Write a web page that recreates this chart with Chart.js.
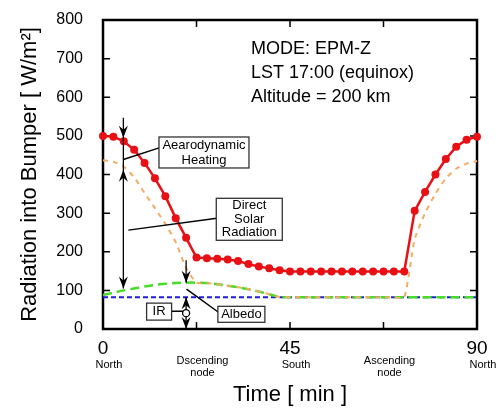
<!DOCTYPE html>
<html>
<head>
<meta charset="utf-8">
<script src="https://cdn.jsdelivr.net/npm/chart.js@4.4.1/dist/chart.umd.min.js"></script>
<style>
  body { margin: 0; background: #fff; }
  #wrap { width: 502px; height: 412px; }
</style>
</head>
<body>
<div id="wrap"><canvas id="radChart"></canvas></div>
<script>
// orbit time [min], one point every 2.5 min
const times = [0, 2.5, 5, 7.5, 10, 12.5, 15, 17.5, 20, 22.5, 25, 27.5, 30, 32.5, 35, 37.5, 40, 42.5,
  45, 47.5, 50, 52.5, 55, 57.5, 60, 62.5, 65, 67.5, 70, 72.5, 75, 77.5, 80, 82.5, 85, 87.5, 90];

// total radiation into bumper (red)
const total = [500, 498, 486, 464, 430, 390, 344, 287, 236, 185, 183, 182, 180, 176, 168, 162, 157, 152,
  149, 149, 149, 149, 149, 149, 149, 149, 149, 149, 149, 149, 306, 355, 400, 440, 472, 490, 498];

// IR + albedo + direct solar (orange)
const solar = [437, 433, 420, 393, 352, 313, 272, 225, 158, 120, 119, 116, 112, 108, 103, 97, 90, 83,
  82, 82, 82, 82, 82, 82, 82, 82, 82, 82, 82, 82, 232, 300, 350, 390, 415, 428, 435];

// IR + albedo (green)
const albedo = [88, 94, 100, 105, 110, 114, 117, 119, 120, 120, 119, 116, 112, 108, 103, 97, 90, 83,
  82, 82, 82, 82, 82, 82, 82, 82, 82, 82, 82, 82, 82, 82, 82, 82, 82, 82, 82];

// IR only (blue)
const irTimes = [0, 90];
const ir = [82, 82];

const xTickValues = [0, 22.5, 45, 67.5, 90];
const xTickLabels = ['0', '', '45', '', '90'];
const xSubLabels = [['North'], ['Dscending', 'node'], ['South'], ['Ascending', 'node'], ['North']];

const infoLines = ['MODE: EPM-Z', 'LST 17:00 (equinox)', 'Altitude = 200 km'];

const FONT = "'Liberation Sans', Arial, sans-serif";

const pts = (xs, ys) => xs.map((x, i) => ({ x: x, y: ys[i] }));

// callout boxes, centre in data units, size in px
const callouts = [
  { t: 24.3, v: 457, w: 90, h: 31, lh: 15, lines: ['Aearodynamic', 'Heating'] },
  { t: 35.2, v: 284, w: 66, h: 42, lh: 13.5, lines: ['Direct', 'Solar', 'Radiation'] },
  { t: 13.5, v: 45, w: 25, h: 17, lh: 13, lines: ['IR'] },
  { t: 33.3, v: 38, w: 47, h: 16, lh: 13, lines: ['Albedo'] }
];
const leaders = [
  [4.9, 439, 13.5, 469],
  [6.1, 256, 27.4, 287],
  [20.1, 103, 27.7, 44],
  [16.5, 46, 20, 46]
];
// vertical arrows: [t, vFrom, vTo], heads: [t, v, dir] (dir 1 = pointing down)
const arrowLines = [[4.9, 547, 105], [20, 178, 120], [20, 82, 0]];
const arrowHeads = [[4.9, 495, 1], [4.9, 412, -1], [4.9, 105, 1], [20, 120, 1], [20, 82, -1], [20, 0, 1]];

function head(ctx, x, y, dir) {
  ctx.beginPath();
  ctx.moveTo(x, y);
  ctx.lineTo(x - 4.5, y - dir * 12);
  ctx.lineTo(x, y - dir * 8);
  ctx.lineTo(x + 4.5, y - dir * 12);
  ctx.closePath();
  ctx.fill();
}

const framePlugin = {
  id: 'frame',
  beforeDatasetsDraw(chart) {
    const ctx = chart.ctx;
    const { left, right, top, bottom } = chart.chartArea;
    const xs = chart.scales.x, ys = chart.scales.y;
    ctx.save();
    ctx.strokeStyle = '#000';
    ctx.lineWidth = 1.5;
    ctx.beginPath();
    xs.ticks.forEach(tk => {
      const x = xs.getPixelForValue(tk.value);
      if (x < left + 2 || x > right - 2) return;
      ctx.moveTo(x, bottom); ctx.lineTo(x, bottom - 7);
      ctx.moveTo(x, top); ctx.lineTo(x, top + 7);
    });
    ys.ticks.forEach(tk => {
      const y = ys.getPixelForValue(tk.value);
      if (y < top + 2 || y > bottom - 2) return;
      ctx.moveTo(left, y); ctx.lineTo(left + 7, y);
      ctx.moveTo(right, y); ctx.lineTo(right - 7, y);
    });
    ctx.stroke();
    ctx.lineWidth = 2.5;
    ctx.strokeRect(left, top, right - left, bottom - top);
    ctx.restore();
  }
};

const notesPlugin = {
  id: 'notes',
  afterDatasetsDraw(chart) {
    const ctx = chart.ctx;
    const xs = chart.scales.x, ys = chart.scales.y;
    const X = t => xs.getPixelForValue(t), Y = v => ys.getPixelForValue(v);
    ctx.save();
    ctx.fillStyle = '#000';
    ctx.strokeStyle = '#000';

    // info text
    ctx.font = '18px ' + FONT;
    ctx.textAlign = 'left';
    ctx.textBaseline = 'middle';
    infoLines.forEach((s, i) => ctx.fillText(s, X(35.6), Y(725) + i * 24));

    // leader lines
    ctx.lineWidth = 1.5;
    ctx.beginPath();
    leaders.forEach(l => { ctx.moveTo(X(l[0]), Y(l[1])); ctx.lineTo(X(l[2]), Y(l[3])); });
    ctx.stroke();

    // arrows
    ctx.lineWidth = 1.3;
    ctx.beginPath();
    arrowLines.forEach(a => { ctx.moveTo(X(a[0]), Y(a[1])); ctx.lineTo(X(a[0]), Y(a[2])); });
    ctx.stroke();
    arrowHeads.forEach(h => head(ctx, X(h[0]), Y(h[1]), h[2]));

    // small circle on IR arrow
    ctx.beginPath();
    ctx.arc(X(20), Y(41), 3.5, 0, Math.PI * 2);
    ctx.fillStyle = '#fff';
    ctx.fill();
    ctx.stroke();

    // callout boxes
    ctx.font = '13px ' + FONT;
    ctx.textAlign = 'center';
    callouts.forEach(c => {
      const cx = X(c.t), cy = Y(c.v);
      ctx.fillStyle = '#fff';
      ctx.fillRect(cx - c.w / 2, cy - c.h / 2, c.w, c.h);
      ctx.strokeStyle = '#333';
      ctx.lineWidth = 1.3;
      ctx.strokeRect(cx - c.w / 2, cy - c.h / 2, c.w, c.h);
      ctx.fillStyle = '#000';
      const y0 = cy - (c.lines.length - 1) * c.lh / 2;
      c.lines.forEach((s, i) => ctx.fillText(s, cx, y0 + i * c.lh));
    });

    // place names under the time axis
    ctx.font = '11px ' + FONT;
    const base = chart.chartArea.bottom;
    xSubLabels.forEach((lines, i) => {
      const x = X(xTickValues[i]) + 6;
      if (lines.length === 1) {
        ctx.fillText(lines[0], x, base + 36);
      } else {
        lines.forEach((s, j) => ctx.fillText(s, x, base + 32 + j * 12));
      }
    });
    ctx.restore();
  }
};

new Chart(document.getElementById('radChart'), {
  type: 'line',
  data: {
    datasets: [
      {
        label: 'Total',
        data: pts(times, total),
        borderColor: 'rgb(232,16,20)',
        backgroundColor: 'rgb(232,16,20)',
        borderWidth: 2.5,
        pointRadius: 4,
        pointBorderWidth: 0,
        tension: 0,
        clip: false
      },
      {
        label: 'Direct solar',
        data: pts(times, solar),
        borderColor: 'rgb(244,172,100)',
        borderWidth: 2,
        borderDash: [5, 5],
        pointRadius: 0,
        tension: 0.2,
        clip: false
      },
      {
        label: 'Albedo',
        data: pts(times, albedo),
        borderColor: 'rgb(70,220,40)',
        borderWidth: 2.5,
        borderDash: [9, 5],
        pointRadius: 0,
        tension: 0.2,
        clip: false
      },
      {
        label: 'IR',
        data: pts(irTimes, ir),
        borderColor: 'rgb(30,30,215)',
        borderWidth: 2,
        borderDash: [5, 3],
        pointRadius: 0,
        clip: false
      }
    ]
  },
  options: {
    responsive: true,
    maintainAspectRatio: false,
    animation: false,
    layout: { padding: { top: 20, right: 25, bottom: 0, left: 0 } },
    plugins: { legend: { display: false }, tooltip: { enabled: false } },
    scales: {
      x: {
        type: 'linear',
        min: 0,
        max: 90,
        afterBuildTicks: s => { s.ticks = xTickValues.map(v => ({ value: v })); },
        afterFit: s => { s.height = 83; s.paddingLeft = 0; s.paddingRight = 0; },
        ticks: {
          autoSkip: false,
          maxRotation: 0,
          padding: 8,
          color: '#000',
          font: { family: FONT, size: 19 },
          callback: v => { const i = xTickValues.indexOf(v); return i < 0 ? '' : xTickLabels[i]; }
        },
        grid: { display: false, drawTicks: false },
        border: { display: false },
        title: {
          display: true,
          text: 'Time [ min ]',
          color: '#000',
          font: { family: FONT, size: 22 },
          padding: { top: 0, bottom: 4 }
        }
      },
      y: {
        min: 0,
        max: 800,
        afterFit: s => { s.width = 103; s.paddingTop = 0; s.paddingBottom = 0; },
        ticks: { stepSize: 100, padding: 20, color: '#000', font: { family: FONT, size: 16 } },
        grid: { display: false, drawTicks: false },
        border: { display: false },
        title: {
          display: true,
          text: 'Radiation into Bumper [ W/m²]',
          color: '#000',
          font: { family: FONT, size: 22 },
          padding: { top: 17, bottom: 0 }
        }
      }
    }
  },
  plugins: [framePlugin, notesPlugin]
});
</script>
</body>
</html>
